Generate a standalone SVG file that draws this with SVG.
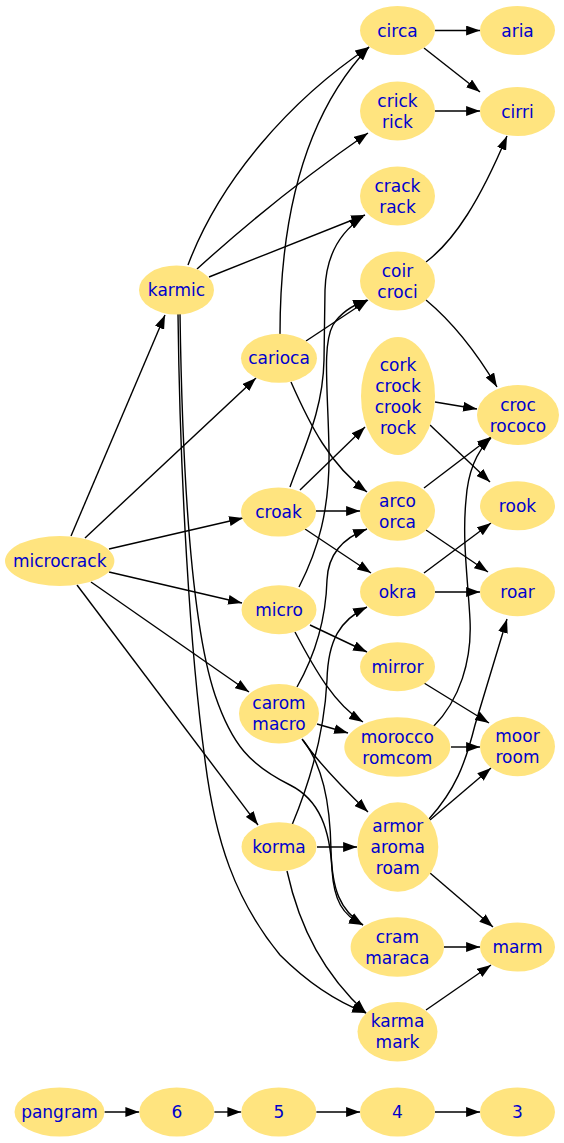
<svg xmlns="http://www.w3.org/2000/svg" width="564" height="1143" viewBox="0 0 564 1143">
<style>
.n ellipse{fill:#ffe47f;stroke:none}
.n text{font-family:"DejaVu Sans",Verdana,sans-serif;font-size:17px;fill:#0000cd;text-anchor:middle}
#edges path{fill:none;stroke:#000;stroke-width:1.4;marker-end:url(#a)}
</style>
<defs>
<marker id="a" markerUnits="userSpaceOnUse" markerWidth="14" markerHeight="10" viewBox="0 0 14 10" refX="13.9" refY="5" orient="auto">
<path d="M0,0.1 L13.9,5 L0,9.9 z" fill="#000"/>
</marker>
</defs>
<rect width="564" height="1143" fill="#fff"/>
<g id="edges">
<path d="M71,536 L165,315"/>
<path d="M85,538 L256,378"/>
<path d="M109,549 L243,518"/>
<path d="M109,572 L242,603"/>
<path d="M91,582 L249,692"/>
<path d="M77,585 L258,825"/>
<path d="M188,265 C220,180 290,100 369,47"/>
<path d="M197,269 C240,230 300,180 368,133"/>
<path d="M209,277 L365,215"/>
<path d="M180,314 C182,450 190,620 215,695 C232,745 250,765 290,785 C320,800 330,830 332,870 C334,900 342,915 363,925"/>
<path d="M178,314 C180,480 190,650 205,760 C215,840 235,900 280,955 C310,985 340,1003 366,1013"/>
<path d="M280,334 C280,230 300,120 369,47"/>
<path d="M306,341 L368,300"/>
<path d="M291,382 C310,425 330,465 367,492"/>
<path d="M290,487 C305,445 323,410 324,360 L325,290 C326,255 340,232 363,217"/>
<path d="M300,490 L365,427"/>
<path d="M316,511 L360,511"/>
<path d="M305,529 L371,573"/>
<path d="M299,587 C318,550 330,510 329,450 C328,390 322,345 333,325 C341,312 353,305 367,300"/>
<path d="M310,625 L367,652"/>
<path d="M295,632 C315,670 335,705 363,722"/>
<path d="M297,687 C318,650 326,615 327,580 C328,555 343,538 367,529"/>
<path d="M317,724 L348,733"/>
<path d="M302,739 C320,765 345,790 368,812"/>
<path d="M303,740 C322,765 330,800 331,850 C332,890 340,910 363,925"/>
<path d="M292,825 C315,770 325,720 327,680 C328,640 340,620 367,607"/>
<path d="M317,847 L357,847"/>
<path d="M287,871 C300,930 325,975 366,1013"/>
<path d="M435,30.5 L480,30.5"/>
<path d="M424,48 L480,92"/>
<path d="M435,111 L480,111"/>
<path d="M426,262 C455,240 480,200 507,136"/>
<path d="M426,300 C450,320 475,350 497,387"/>
<path d="M435,402 L477,409"/>
<path d="M430,425 L490,482"/>
<path d="M424,488 L491,437"/>
<path d="M426,530 L488,572"/>
<path d="M424,573 L491,523"/>
<path d="M435,592 L480,592"/>
<path d="M424,683 L489,723"/>
<path d="M433,727 C460,700 472,660 470,620 C468,580 462,540 466,500 C468,470 478,450 491,438"/>
<path d="M451,747 L480,747"/>
<path d="M429,819 C455,790 465,765 475,725 L507,619"/>
<path d="M430,820 L491,768"/>
<path d="M430,873 L493,927"/>
<path d="M444,947 L480,947"/>
<path d="M426,1010 L491,965"/>
<path d="M104.5,1112 L139.3,1112"/>
<path d="M214.3,1112 L241.3,1112"/>
<path d="M316.3,1112 L360,1112"/>
<path d="M435,1112 L480,1112"/>
</g>
<g id="microcrack" class="n"><ellipse cx="59.7" cy="561" rx="54.7" ry="25"/><text x="59.7" y="567">microcrack</text></g>
<g id="karmic" class="n"><ellipse cx="176.5" cy="290" rx="37.5" ry="24.5"/><text x="176.5" y="296">karmic</text></g>
<g id="carioca" class="n"><ellipse cx="279" cy="358.3" rx="38" ry="24.5"/><text x="279" y="364.3">carioca</text></g>
<g id="croak" class="n"><ellipse cx="278.5" cy="512" rx="37.5" ry="24.5"/><text x="278.5" y="518">croak</text></g>
<g id="micro" class="n"><ellipse cx="279" cy="609.7" rx="37.5" ry="24.5"/><text x="279" y="615.7">micro</text></g>
<g id="carom_macro" class="n"><ellipse cx="279" cy="713.7" rx="40" ry="29.7"/><text x="279" y="709.2">carom</text><text x="279" y="730.2">macro</text></g>
<g id="korma" class="n"><ellipse cx="279" cy="846.7" rx="37.5" ry="24.5"/><text x="279" y="852.7">korma</text></g>
<g id="circa" class="n"><ellipse cx="397.5" cy="30.5" rx="37.5" ry="24.5"/><text x="397.5" y="36.5">circa</text></g>
<g id="aria" class="n"><ellipse cx="517.5" cy="30.5" rx="37.5" ry="24.5"/><text x="517.5" y="36.5">aria</text></g>
<g id="crick_rick" class="n"><ellipse cx="397.5" cy="111" rx="37.5" ry="29.5"/><text x="397.5" y="106.5">crick</text><text x="397.5" y="127.5">rick</text></g>
<g id="cirri" class="n"><ellipse cx="517.5" cy="111.5" rx="37.5" ry="24.5"/><text x="517.5" y="117.5">cirri</text></g>
<g id="crack_rack" class="n"><ellipse cx="397.5" cy="196" rx="37.5" ry="29.5"/><text x="397.5" y="191.5">crack</text><text x="397.5" y="212.5">rack</text></g>
<g id="coir_croci" class="n"><ellipse cx="397.5" cy="281" rx="37.5" ry="29.5"/><text x="397.5" y="276.5">coir</text><text x="397.5" y="297.5">croci</text></g>
<g id="cork" class="n"><ellipse cx="398" cy="396" rx="37" ry="59"/><text x="398" y="370.5">cork</text><text x="398" y="391.5">crock</text><text x="398" y="412.5">crook</text><text x="398" y="433.5">rock</text></g>
<g id="croc_rococo" class="n"><ellipse cx="518" cy="415" rx="41" ry="30"/><text x="518" y="410.5">croc</text><text x="518" y="431.5">rococo</text></g>
<g id="arco_orca" class="n"><ellipse cx="397.5" cy="511" rx="37.5" ry="29.7"/><text x="397.5" y="506.5">arco</text><text x="397.5" y="527.5">orca</text></g>
<g id="rook" class="n"><ellipse cx="517.5" cy="505.8" rx="37.5" ry="24.5"/><text x="517.5" y="511.8">rook</text></g>
<g id="okra" class="n"><ellipse cx="397.5" cy="591.7" rx="37.5" ry="24.5"/><text x="397.5" y="597.7">okra</text></g>
<g id="roar" class="n"><ellipse cx="517.5" cy="591.7" rx="37.5" ry="24.5"/><text x="517.5" y="597.7">roar</text></g>
<g id="mirror" class="n"><ellipse cx="397.5" cy="666.7" rx="37.5" ry="24.5"/><text x="397.5" y="672.7">mirror</text></g>
<g id="morocco_romcom" class="n"><ellipse cx="397.3" cy="747" rx="53" ry="29.7"/><text x="397.3" y="742.5">morocco</text><text x="397.3" y="763.5">romcom</text></g>
<g id="moor_room" class="n"><ellipse cx="517.5" cy="746.5" rx="37.5" ry="29.7"/><text x="517.5" y="742">moor</text><text x="517.5" y="763">room</text></g>
<g id="armor" class="n"><ellipse cx="397.8" cy="847" rx="40.5" ry="44.7"/><text x="397.8" y="832">armor</text><text x="397.8" y="853">aroma</text><text x="397.8" y="874">roam</text></g>
<g id="cram_maraca" class="n"><ellipse cx="397.3" cy="947" rx="46.7" ry="29.7"/><text x="397.3" y="942.5">cram</text><text x="397.3" y="963.5">maraca</text></g>
<g id="marm" class="n"><ellipse cx="517.5" cy="947" rx="37.5" ry="24.5"/><text x="517.5" y="953">marm</text></g>
<g id="karma_mark" class="n"><ellipse cx="397.5" cy="1031.8" rx="40" ry="29.8"/><text x="397.5" y="1027.3">karma</text><text x="397.5" y="1048.3">mark</text></g>
<g id="pangram" class="n"><ellipse cx="59.5" cy="1112" rx="45" ry="24.5"/><text x="59.5" y="1118">pangram</text></g>
<g id="n6" class="n"><ellipse cx="176.8" cy="1112" rx="37.5" ry="24.5"/><text x="176.8" y="1118">6</text></g>
<g id="n5" class="n"><ellipse cx="278.8" cy="1112" rx="37.5" ry="24.5"/><text x="278.8" y="1118">5</text></g>
<g id="n4" class="n"><ellipse cx="397.5" cy="1112" rx="37.5" ry="24.5"/><text x="397.5" y="1118">4</text></g>
<g id="n3" class="n"><ellipse cx="517.5" cy="1112" rx="37.5" ry="24.5"/><text x="517.5" y="1118">3</text></g>
</svg>
